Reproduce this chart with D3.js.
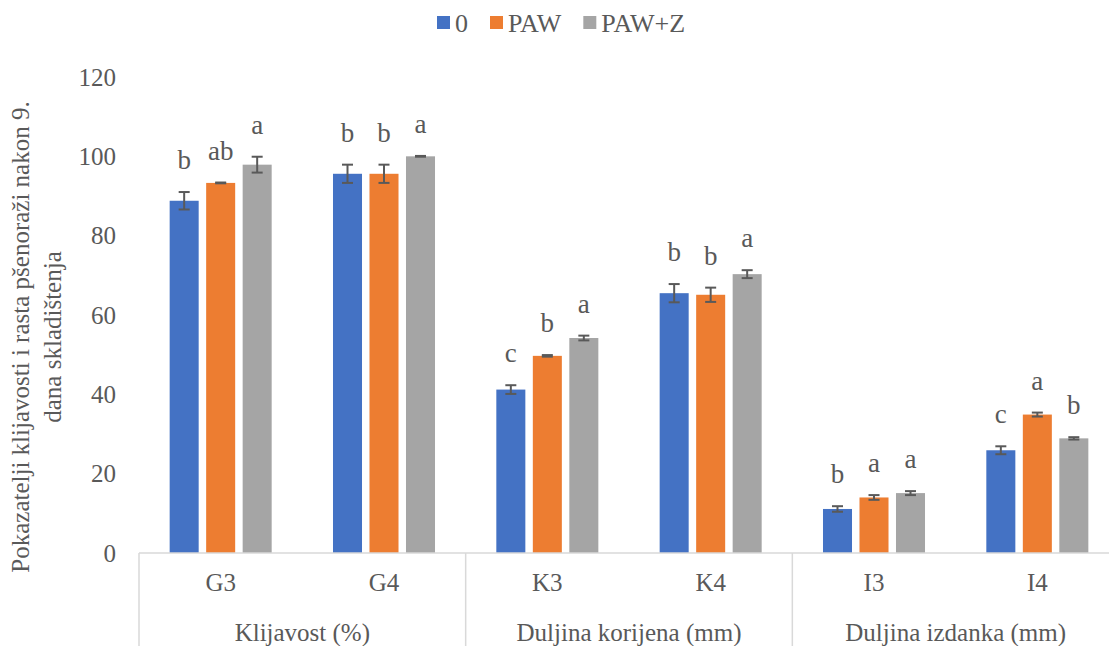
<!DOCTYPE html>
<html>
<head>
<meta charset="utf-8">
<script src="https://cdn.jsdelivr.net/npm/d3@7"></script>
<style>
  body { margin: 0; background: #fff; }
  svg text { font-family: 'Liberation Serif', 'Times New Roman', serif; }
</style>
</head>
<body>
<svg id="vis_svg" width="1109" height="646"></svg>
<script>
// categories and groups
const categories = ['G3', 'G4', 'K3', 'K4', 'I3', 'I4'];
const groups = ['Klijavost (%)', 'Duljina korijena (mm)', 'Duljina izdanka (mm)'];
const seriesNames = ['0', 'PAW', 'PAW+Z'];
const yTicks = [0, 20, 40, 60, 80, 100, 120];

// series values
const val0 = [88.8, 95.6, 41.2, 65.5, 11.1, 25.9];
const valPAW = [93.3, 95.6, 49.7, 65.1, 14.0, 34.9];
const valPAWZ = [97.9, 100.0, 54.2, 70.3, 15.1, 28.9];

// standard errors
const err0 = [2.2, 2.3, 1.1, 2.3, 0.7, 1.0];
const errPAW = [0.1, 2.3, 0.2, 1.8, 0.6, 0.5];
const errPAWZ = [2.0, 0.1, 0.6, 1.0, 0.5, 0.3];

// significance letters
const let0 = ['b', 'b', 'c', 'b', 'b', 'c'];
const letPAW = ['ab', 'b', 'b', 'b', 'a', 'a'];
const letPAWZ = ['a', 'a', 'a', 'a', 'a', 'b'];

const colors = ['#4472C4', '#ED7D31', '#A5A5A5'];
const textColor = '#595959';
const serif = "'Liberation Serif', 'Times New Roman', serif";

const values = [val0, valPAW, valPAWZ];
const errors = [err0, errPAW, errPAWZ];
const letters = [let0, letPAW, letPAWZ];

const data = [];
categories.forEach((c, i) => {
  seriesNames.forEach((s, j) => {
    data.push({ cat: c, series: s, si: j, value: values[j][i], err: errors[j][i], letter: letters[j][i] });
  });
});

const margin = { top: 77, bottom: 93, left: 139, right: -10 };
const svg = d3.select('#vis_svg');
const width = 1109;
const height = 646;
const plotBottom = height - margin.bottom;

const xScale = d3.scaleBand()
  .domain(categories)
  .range([margin.left, width - margin.right])
  .padding(0);

const xInner = d3.scaleBand()
  .domain(seriesNames)
  .range([0, xScale.bandwidth()])
  .paddingInner(0.205)
  .paddingOuter(0.84);

const yScale = d3.scaleLinear().domain([0, 120]).range([plotBottom, margin.top]);

// y axis (labels only)
const gy = svg.append('g')
  .attr('transform', `translate(${margin.left},0)`)
  .call(d3.axisLeft(yScale).tickValues(yTicks).tickSize(0).tickPadding(23));
gy.attr('font-family', serif).attr('font-size', 25);
gy.select('.domain').remove();
gy.selectAll('text')
  .attr('fill', textColor)
  .style('font-family', serif)
  .style('font-size', '25px');

// bars
svg.append('g')
  .selectAll('rect')
  .data(data)
  .enter()
  .append('rect')
  .attr('x', (d) => xScale(d.cat) + xInner(d.series))
  .attr('y', (d) => yScale(d.value))
  .attr('width', xInner.bandwidth())
  .attr('height', (d) => plotBottom - yScale(d.value))
  .attr('fill', (d) => colors[d.si]);

// error bars
const gErr = svg.append('g').attr('stroke', textColor).attr('stroke-width', 2);
data.forEach((d) => {
  const cx = xScale(d.cat) + xInner(d.series) + xInner.bandwidth() / 2;
  const yTop = yScale(d.value + d.err);
  const yBot = yScale(d.value - d.err);
  gErr.append('line').attr('x1', cx).attr('x2', cx).attr('y1', yTop).attr('y2', yBot);
  gErr.append('line').attr('x1', cx - 5.5).attr('x2', cx + 5.5).attr('y1', yTop).attr('y2', yTop);
  gErr.append('line').attr('x1', cx - 5.5).attr('x2', cx + 5.5).attr('y1', yBot).attr('y2', yBot);
});

// letters
svg.append('g')
  .selectAll('text')
  .data(data)
  .enter()
  .append('text')
  .attr('x', (d) => xScale(d.cat) + xInner(d.series) + xInner.bandwidth() / 2)
  .attr('y', (d) => yScale(d.value + d.err) - 23)
  .attr('text-anchor', 'middle')
  .attr('fill', textColor)
  .style('font-family', serif)
  .style('font-size', '27px')
  .text((d) => d.letter);

// x axis lines
const gx = svg.append('g').attr('stroke', '#D9D9D9').attr('stroke-width', 1.5);
gx.append('line')
  .attr('x1', margin.left).attr('x2', width - margin.right)
  .attr('y1', plotBottom).attr('y2', plotBottom);
[0, 2, 4].forEach((i) => {
  const x = xScale(categories[i]);
  gx.append('line').attr('x1', x).attr('x2', x).attr('y1', plotBottom).attr('y2', height);
});

// category labels
svg.append('g')
  .selectAll('text')
  .data(categories)
  .enter()
  .append('text')
  .attr('x', (d) => xScale(d) + xScale.bandwidth() / 2)
  .attr('y', plotBottom + 38)
  .attr('text-anchor', 'middle')
  .attr('fill', textColor)
  .style('font-family', serif)
  .style('font-size', '25px')
  .text((d) => d);

// group labels
svg.append('g')
  .selectAll('text')
  .data(groups)
  .enter()
  .append('text')
  .attr('x', (d, i) => xScale(categories[i * 2]) + xScale.bandwidth())
  .attr('y', plotBottom + 88)
  .attr('text-anchor', 'middle')
  .attr('fill', textColor)
  .style('font-family', serif)
  .style('font-size', '25px')
  .text((d) => d);

// y axis title
const yTitle = svg.append('text')
  .attr('transform', 'translate(0,337) rotate(-90)')
  .attr('text-anchor', 'middle')
  .attr('fill', textColor)
  .style('font-family', serif)
  .style('font-size', '25px');
yTitle.append('tspan').attr('x', 0).attr('y', 29).text('Pokazatelji klijavosti i rasta pšenoraži nakon 9.');
yTitle.append('tspan').attr('x', 0).attr('y', 61).text('dana skladištenja');

// legend
const legend = svg.append('g').attr('transform', 'translate(437,0)');
let lx = 0;
seriesNames.forEach((s, i) => {
  legend.append('rect')
    .attr('x', lx).attr('y', 16)
    .attr('width', 13).attr('height', 13)
    .attr('fill', colors[i]);
  const t = legend.append('text')
    .attr('x', lx + 18).attr('y', 32)
    .attr('fill', textColor)
    .style('font-family', serif)
    .style('font-size', '26px')
    .text(s);
  lx += 18 + t.node().getComputedTextLength() + 22;
});
</script>
</body>
</html>
